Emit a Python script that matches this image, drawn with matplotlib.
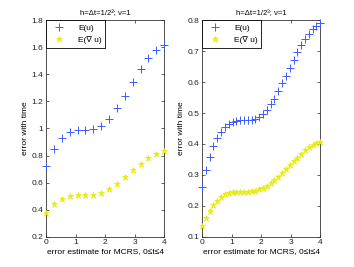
import numpy as np
import matplotlib
matplotlib.use("Agg")
import matplotlib.pyplot as plt

plt.rcParams['font.family'] = ['Liberation Sans', 'DejaVu Sans']

# left panel: h = dt = 1/2^2
t_left = np.linspace(0, 4, 16)
eu_left = [0.72, 0.85, 0.93, 0.975, 0.987, 0.99, 0.995, 1.017, 1.069, 1.148,
           1.241, 1.345, 1.439, 1.520, 1.580, 1.615]
egrad_left = [0.373, 0.439, 0.479, 0.501, 0.508, 0.508, 0.511, 0.523, 0.550,
              0.590, 0.639, 0.693, 0.740, 0.785, 0.812, 0.832]

# right panel: h = dt = 1/2^3
t_right = np.linspace(0, 4, 32)
eu_right = [0.260, 0.316, 0.357, 0.392, 0.420, 0.440, 0.456, 0.466, 0.472,
            0.475, 0.477, 0.478, 0.478, 0.478, 0.480, 0.487, 0.496, 0.510,
            0.528, 0.547, 0.571, 0.596, 0.621, 0.646, 0.671, 0.696, 0.720,
            0.739, 0.757, 0.772, 0.781, 0.790]
egrad_right = [0.134, 0.161, 0.184, 0.202, 0.216, 0.229, 0.238, 0.242, 0.244,
               0.245, 0.246, 0.246, 0.246, 0.247, 0.249, 0.253, 0.258, 0.265,
               0.274, 0.283, 0.294, 0.306, 0.318, 0.331, 0.344, 0.356, 0.369,
               0.380, 0.389, 0.396, 0.402, 0.407]

titles = ['h=\u0394t=1/2\u00b2; \u03bd=1', 'h=\u0394t=1/2\u00b3; \u03bd=1']
yticks_left = [0.2, 0.4, 0.6, 0.8, 1.0, 1.2, 1.4, 1.6, 1.8]
yticks_right = [0.1, 0.2, 0.3, 0.4, 0.5, 0.6, 0.7, 0.8]

blue = '#3f5cff'
yellow = '#eaea10'

fig = plt.figure(figsize=(3.54, 2.67), dpi=100)
ax1 = fig.add_axes([0.130, 0.1135, 0.334, 0.8105])
ax2 = fig.add_axes([0.5706, 0.1135, 0.334, 0.8105])

panels = [
    (ax1, t_left, eu_left, egrad_left, yticks_left, titles[0]),
    (ax2, t_right, eu_right, egrad_right, yticks_right, titles[1]),
]

for ax, t, eu, eg, yt, title in panels:
    ax.plot(t, eu, '+', color=blue, markersize=5.5, markeredgewidth=0.7,
            label='E(u)', clip_on=False, zorder=3)
    ax.plot(t, eg, '*', color=yellow, markersize=4.8, markeredgewidth=0.5,
            label='E(\u2207 u)', clip_on=False, zorder=3)
    ax.set_xlim(0, 4)
    ax.set_ylim(yt[0], yt[-1])
    ax.set_xticks([0, 1, 2, 3, 4])
    ax.set_yticks(yt)
    ax.set_yticklabels(['%g' % v for v in yt])
    ax.tick_params(direction='in', length=2.5, width=0.5, labelsize=6,
                   top=True, right=True, pad=2, colors='#222222')
    for s in ax.spines.values():
        s.set_linewidth(0.6)
        s.set_color('#333333')
    ax.set_title(title, fontsize=5.5, pad=4)
    ax.set_xlabel('error estimate for MCRS, 0\u2264t\u22644', fontsize=6,
                  labelpad=1)
    ax.set_ylabel('error with time', fontsize=6, labelpad=2)
    leg = ax.legend(loc='upper left', fontsize=6, borderaxespad=0,
                    fancybox=False, framealpha=1, handletextpad=1.2,
                    borderpad=0.45, labelspacing=0.55, handlelength=2.2)
    leg.get_frame().set_edgecolor('black')
    leg.get_frame().set_linewidth(0.6)
    leg.set_zorder(5)

fig.savefig('out.png', dpi=100)
